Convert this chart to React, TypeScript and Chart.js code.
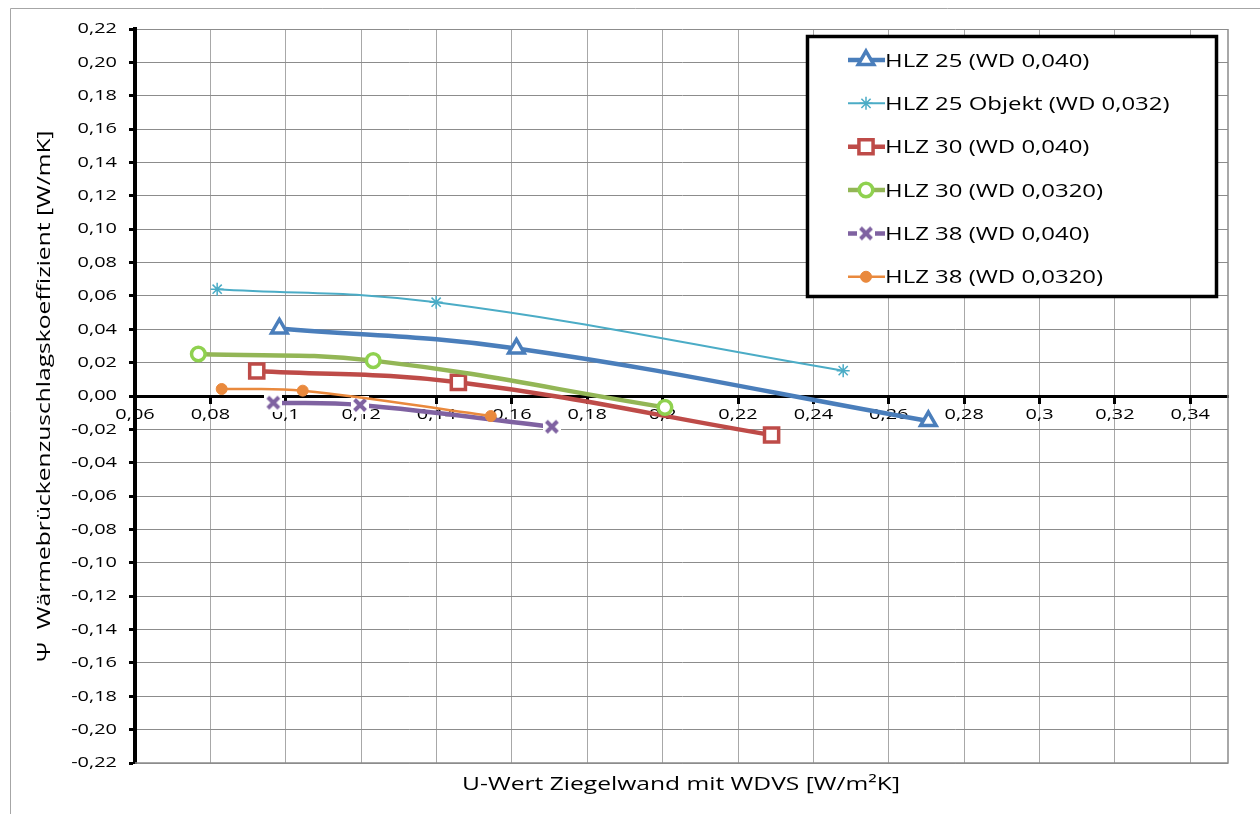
import { useEffect, useRef } from 'react';
import { Chart, registerables } from 'chart.js';
import { drawPoint } from 'chart.js/helpers';

Chart.register(...registerables);

// ---------- data ----------
const SERIES_LABELS = [
  'HLZ 25 (WD 0,040)',
  'HLZ 25 Objekt (WD 0,032)',
  'HLZ 30 (WD 0,040)',
  'HLZ 30 (WD 0,0320)',
  'HLZ 38 (WD 0,040)',
  'HLZ 38 (WD 0,0320)',
];

const HLZ25_X = [0.0983, 0.1612, 0.2705];
const HLZ25_Y = [0.0405, 0.0285, -0.015];

const HLZ25_OBJ_X = [0.0818, 0.1399, 0.2479];
const HLZ25_OBJ_Y = [0.064, 0.0562, 0.0152];

const HLZ30_X = [0.0923, 0.1458, 0.2289];
const HLZ30_Y = [0.015, 0.0082, -0.0234];

const HLZ30_032_X = [0.0768, 0.1232, 0.2006];
const HLZ30_032_Y = [0.0252, 0.0212, -0.0068];

const HLZ38_X = [0.0967, 0.1197, 0.1706];
const HLZ38_Y = [-0.004, -0.0054, -0.0184];

const HLZ38_032_X = [0.083, 0.1045, 0.1544];
const HLZ38_032_Y = [0.0042, 0.0032, -0.012];

const X_TICKS = [0.06, 0.08, 0.1, 0.12, 0.14, 0.16, 0.18, 0.2, 0.22, 0.24, 0.26, 0.28, 0.3, 0.32, 0.34];
const Y_TICKS = [
  -0.22, -0.2, -0.18, -0.16, -0.14, -0.12, -0.1, -0.08, -0.06, -0.04, -0.02, 0,
  0.02, 0.04, 0.06, 0.08, 0.1, 0.12, 0.14, 0.16, 0.18, 0.2, 0.22,
];
const X_MIN = 0.06;
const X_MAX = 0.35;
const Y_MIN = -0.22;
const Y_MAX = 0.22;

const X_TITLE = 'U-Wert Ziegelwand mit WDVS [W/m²K]';
const Y_TITLE = 'Ψ  Wärmebrückenzuschlagskoeffizient [W/mK]';

// ---------- styling ----------
const FONT = '"Open Sans", sans-serif';
const SX = 1.33; // horizontal text stretch

function fmtX(v: number) {
  return String(Math.round(v * 100) / 100).replace('.', ',');
}
function fmtY(v: number) {
  const r = Math.round(v * 100) / 100;
  return (Math.abs(r) < 1e-9 ? 0 : r).toFixed(2).replace('.', ',');
}

function makeXMarker(color: string) {
  const c = document.createElement('canvas');
  c.width = 18;
  c.height = 18;
  const g = c.getContext('2d')!;
  g.fillStyle = '#fff';
  g.fillRect(0, 0, 18, 18);
  g.strokeStyle = color;
  g.lineWidth = 4;
  g.lineCap = 'butt';
  g.beginPath();
  g.moveTo(3.5, 3.5);
  g.lineTo(14.5, 14.5);
  g.moveTo(14.5, 3.5);
  g.lineTo(3.5, 14.5);
  g.stroke();
  return c;
}

export default function App() {
  const ref = useRef<HTMLCanvasElement | null>(null);

  useEffect(() => {
    const canvas = ref.current;
    if (!canvas) return;

    const purple = '#7f62a1';
    const xMarker = makeXMarker(purple);

    const pts = (xs: number[], ys: number[]) => xs.map((x, i) => ({ x, y: ys[i] }));

    const datasets: any[] = [
      {
        label: SERIES_LABELS[0], data: pts(HLZ25_X, HLZ25_Y),
        borderColor: '#4a7ebb', borderWidth: 4.5,
        pointStyle: 'triangle', pointRadius: 9, pointBorderWidth: 3.5,
        pointBackgroundColor: '#ffffff', pointBorderColor: '#4a7ebb', order: 6,
      },
      {
        label: SERIES_LABELS[1], data: pts(HLZ25_OBJ_X, HLZ25_OBJ_Y),
        borderColor: '#4bacc6', borderWidth: 2,
        pointStyle: 'star', pointRadius: 6.5, pointBorderWidth: 1.5,
        pointBackgroundColor: '#4bacc6', pointBorderColor: '#4bacc6', order: 5,
      },
      {
        label: SERIES_LABELS[2], data: pts(HLZ30_X, HLZ30_Y),
        borderColor: '#be4b48', borderWidth: 4.5,
        pointStyle: 'rect', pointRadius: 10, pointBorderWidth: 3.5,
        pointBackgroundColor: '#ffffff', pointBorderColor: '#be4b48', order: 4,
      },
      {
        label: SERIES_LABELS[3], data: pts(HLZ30_032_X, HLZ30_032_Y),
        borderColor: '#93b656', borderWidth: 4.5,
        pointStyle: 'circle', pointRadius: 6.8, pointBorderWidth: 3.5,
        pointBackgroundColor: '#ffffff', pointBorderColor: '#8fd14f', order: 3,
      },
      {
        label: SERIES_LABELS[4], data: pts(HLZ38_X, HLZ38_Y),
        borderColor: purple, borderWidth: 4.5,
        pointStyle: xMarker, pointRadius: 9, pointBorderWidth: 0,
        pointBackgroundColor: purple, pointBorderColor: purple, order: 2,
      },
      {
        label: SERIES_LABELS[5], data: pts(HLZ38_032_X, HLZ38_032_Y),
        borderColor: '#e9893d', borderWidth: 2.5,
        pointStyle: 'circle', pointRadius: 5.5, pointBorderWidth: 1,
        pointBackgroundColor: '#e9893d', pointBorderColor: '#e9893d', order: 1,
      },
    ].map((d) => ({ ...d, showLine: true, tension: 0.4, fill: false }));

    const stretchPlugin = {
      id: 'stretchText',
      beforeInit(chart: any) {
        const ctx = chart.ctx as CanvasRenderingContext2D;
        const orig = ctx.fillText.bind(ctx);
        (ctx as any).fillText = (text: string, x: number, y: number, maxWidth?: number) => {
          ctx.save();
          ctx.translate(x, y);
          ctx.scale(SX, 1);
          if (maxWidth !== undefined && maxWidth !== null) orig(text, 0, 0, maxWidth / SX);
          else orig(text, 0, 0);
          ctx.restore();
        };
      },
    };

    const decorPlugin = {
      id: 'decor',
      beforeDraw(chart: any) {
        const ctx = chart.ctx as CanvasRenderingContext2D;
        ctx.save();
        ctx.strokeStyle = '#a6a6a6';
        ctx.lineWidth = 1;
        ctx.beginPath();
        ctx.moveTo(10.5, 814);
        ctx.lineTo(10.5, 8.5);
        ctx.lineTo(1260, 8.5);
        ctx.stroke();
        ctx.restore();
      },
      beforeDatasetsDraw(chart: any) {
        const ctx = chart.ctx as CanvasRenderingContext2D;
        const a = chart.chartArea;
        ctx.save();
        ctx.strokeStyle = '#8c8c8c';
        ctx.lineWidth = 1.5;
        ctx.beginPath();
        ctx.moveTo(a.right, a.top);
        ctx.lineTo(a.right, a.bottom);
        ctx.lineTo(a.left, a.bottom);
        ctx.stroke();
        ctx.restore();
      },
      afterDraw(chart: any) {
        const ctx = chart.ctx as CanvasRenderingContext2D;
        const a = chart.chartArea;
        ctx.save();
        // x axis title
        ctx.fillStyle = '#000';
        ctx.font = `18.5px ${FONT}`;
        ctx.textAlign = 'center';
        ctx.textBaseline = 'alphabetic';
        ctx.fillText(X_TITLE, (a.left + a.right) / 2 - 0.5, 790);

        // legend box
        const lx = 807.5, ly = 36.5, lw = 409, lh = 260;
        ctx.fillStyle = '#fff';
        ctx.fillRect(lx, ly, lw, lh);
        ctx.strokeStyle = '#000';
        ctx.lineWidth = 3.5;
        ctx.strokeRect(lx, ly, lw, lh);

        const ds = chart.data.datasets;
        ds.forEach((d: any, i: number) => {
          const cy = 60 + i * 43.35;
          ctx.save();
          ctx.strokeStyle = d.borderColor;
          ctx.lineWidth = d.borderWidth;
          ctx.beginPath();
          ctx.moveTo(848, cy);
          ctx.lineTo(885, cy);
          ctx.stroke();
          ctx.fillStyle = d.pointBackgroundColor;
          ctx.strokeStyle = d.pointBorderColor;
          ctx.lineWidth = d.pointBorderWidth;
          drawPoint(ctx, {
            pointStyle: d.pointStyle,
            rotation: 0,
            radius: d.pointRadius,
            borderWidth: d.pointBorderWidth,
          } as any, 866, cy);
          ctx.restore();

          ctx.fillStyle = '#000';
          ctx.font = `18px ${FONT}`;
          ctx.textAlign = 'left';
          ctx.textBaseline = 'alphabetic';
          ctx.fillText(d.label, 885, cy + 6.5);
        });
        ctx.restore();
      },
    };

    const chart = new Chart(canvas, {
      type: 'scatter',
      data: { datasets },
      plugins: [stretchPlugin, decorPlugin],
      options: {
        animation: false,
        responsive: true,
        maintainAspectRatio: false,
        layout: { padding: { left: 0, top: 29, right: 32, bottom: 51 } },
        plugins: {
          legend: { display: false },
          tooltip: { enabled: false },
        },
        scales: {
          x: {
            type: 'linear',
            min: X_MIN,
            max: X_MAX,
            position: { y: 0 } as any,
            afterBuildTicks: (s: any) => {
              s.ticks = X_TICKS.map((v) => ({ value: v }));
            },
            ticks: {
              callback: (v: any) => fmtX(Number(v)),
              font: { family: FONT, size: 15 },
              color: '#000',
              padding: 4,
              maxRotation: 0,
              minRotation: 0,
              autoSkip: false,
            },
            grid: {
              color: '#a8a8a8',
              lineWidth: 1,
              tickColor: '#000',
              tickWidth: 3,
              tickLength: 6,
              drawTicks: true,
            },
            border: { display: true, color: '#000', width: 3 },
          },
          y: {
            type: 'linear',
            min: Y_MIN,
            max: Y_MAX,
            position: 'left',
            afterBuildTicks: (s: any) => {
              s.ticks = Y_TICKS.map((v) => ({ value: v }));
            },
            afterFit: (s: any) => {
              s.width = 135;
            },
            ticks: {
              callback: (v: any) => fmtY(Number(v)),
              font: { family: FONT, size: 15 },
              color: '#000',
              padding: 12,
              autoSkip: false,
            },
            grid: {
              color: '#8c8c8c',
              lineWidth: 1,
              tickColor: '#000',
              tickWidth: 3,
              tickLength: 6,
              drawTicks: true,
            },
            border: { display: true, color: '#000', width: 4 },
            title: {
              display: true,
              text: Y_TITLE,
              font: { family: FONT, size: 18.5 },
              color: '#000',
              padding: { top: 34, bottom: 0 },
            },
          },
        },
      },
    });

    return () => chart.destroy();
  }, []);

  return (
    <div style={{ position: 'fixed', left: 0, top: 0, width: 1260, height: 814, background: '#fff' }}>
      <canvas ref={ref} />
    </div>
  );
}
